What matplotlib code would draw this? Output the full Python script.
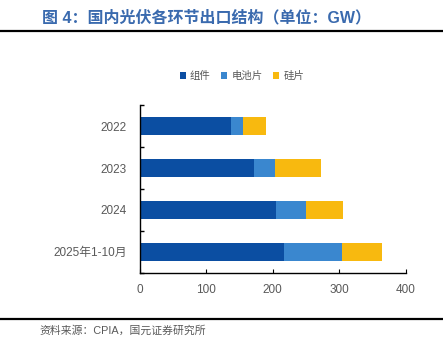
import matplotlib
matplotlib.use("Agg")
import matplotlib.pyplot as plt
from matplotlib.lines import Line2D
import numpy as np

plt.rcParams['font.family'] = ['Liberation Sans', 'Noto Sans CJK SC', 'DejaVu Sans']

categories = ["2022", "2023", "2024", "2025年1-10月"]
modules = [137, 172, 205, 217]
cells = [19, 32, 45.5, 87.5]
wafers = [34, 68, 54.5, 59.5]
series_names = ["组件", "电池片", "硅片"]
colors = ["#0B4EA2", "#3A87CF", "#F8B90F"]
xticks = [0, 100, 200, 300, 400]

fig = plt.figure(figsize=(4.43, 3.39), dpi=100)
ax = fig.add_axes([0.315, 0.195, 0.6015, 0.495])

y = np.arange(len(categories))
left = np.zeros(len(categories))
for vals, name, c in zip([modules, cells, wafers], series_names, colors):
    ax.barh(y, vals, left=left, height=0.43, color=c, label=name)
    left = left + np.array(vals)

ax.set_ylim(len(categories) - 0.5, -0.5)
ax.set_xlim(0, 400)
ax.set_xticks(xticks)
ax.set_yticks(y)
ax.set_yticklabels(categories)
ax.set_yticks(np.arange(-0.5, len(categories), 1.0), minor=True)
ax.tick_params(axis='y', which='major', length=0, pad=9, labelsize=8.5, labelcolor='#595959')
ax.tick_params(axis='y', which='minor', length=3, direction='in', width=1)
ax.tick_params(axis='x', which='major', length=3, direction='in', pad=8, labelsize=8.5, labelcolor='#595959')
for s in ['top', 'right']:
    ax.spines[s].set_visible(False)
for s in ['left', 'bottom']:
    ax.spines[s].set_linewidth(1.0)
    ax.spines[s].set_color('black')

leg = fig.legend(loc='center', bbox_to_anchor=(0.546, 0.776), ncol=3, frameon=False,
                 fontsize=7.5, handlelength=0.6, handleheight=0.6, handletextpad=0.4,
                 columnspacing=1.0)
for t in leg.get_texts():
    t.set_color('#595959')

fig.text(0.095, 0.948, "图 4：国内光伏各环节出口结构（单位：GW）", fontsize=11.5,
         fontweight='bold', color='#3A6AAE', va='center', ha='left')
fig.add_artist(Line2D([0, 1], [0.9086, 0.9086], transform=fig.transFigure, color='black', lw=1.6))
fig.add_artist(Line2D([0, 1], [0.059, 0.059], transform=fig.transFigure, color='black', lw=1.6))
fig.text(0.09, 0.025, "资料来源：CPIA，国元证券研究所", fontsize=7.8, color='#595959', va='center', ha='left')

fig.savefig("out.png", dpi=100)
